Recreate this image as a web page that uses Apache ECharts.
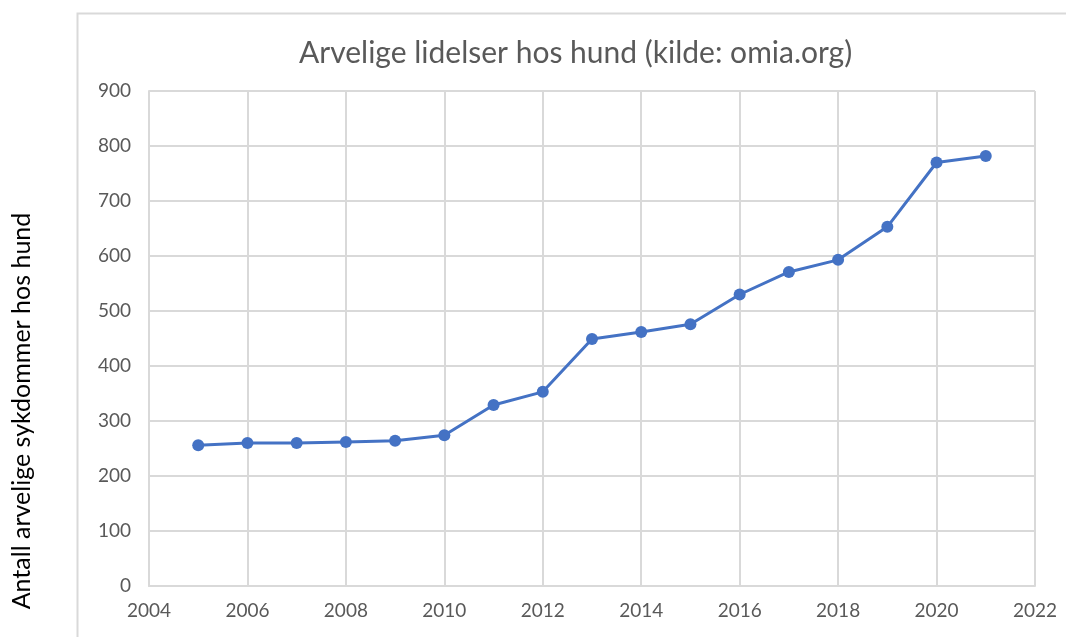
<!DOCTYPE html>
<html>
<head>
<meta charset="utf-8">
<script src="https://cdn.jsdelivr.net/npm/echarts@6/dist/echarts.min.js"></script>
<style>
  html, body { margin: 0; padding: 0; background: #fff; }
  #chart { width: 1066px; height: 637px; }
</style>
</head>
<body>
<div id="chart"></div>
<script>
// data
const years = [2005, 2006, 2007, 2008, 2009, 2010, 2011, 2012, 2013, 2014, 2015, 2016, 2017, 2018, 2019, 2020, 2021];
const counts = [256, 260, 260, 262, 264, 274, 329, 353, 449, 462, 476, 530, 571, 593, 653, 770, 782];

const titleText = 'Arvelige lidelser hos hund (kilde: omia.org)';
const yAxisTitle = 'Antall arvelige sykdommer hos hund';

const gray = '#595959';
const gridGray = '#d9d9d9';
const lineBlue = '#4472c4';
const font = 'Lato, "Open Sans", sans-serif';

const chart = echarts.init(document.getElementById('chart'));

chart.setOption({
  backgroundColor: '#fff',
  animation: false,
  title: {
    text: titleText,
    left: 294,
    top: 33,
    textStyle: { color: gray, fontSize: 30, fontWeight: 'normal', fontFamily: font }
  },
  graphic: [{
    type: 'rect',
    shape: { x: 77.5, y: 13.5, width: 1100, height: 700 },
    style: { fill: 'none', stroke: gridGray, lineWidth: 2 },
    silent: true
  }, {
    // y axis title sits outside the chart box, like the original
    type: 'text',
    x: 22,
    y: 411,
    rotation: Math.PI / 2,
    style: {
      text: yAxisTitle,
      fill: '#000',
      font: '25px ' + font,
      align: 'center',
      verticalAlign: 'middle'
    },
    silent: true
  }],
  grid: { left: 149, right: 31, top: 91, bottom: 51 },
  xAxis: {
    type: 'value',
    min: 2004,
    max: 2022,
    interval: 2,
    axisLine: { show: true, lineStyle: { color: gridGray, width: 2 } },
    axisTick: { show: false },
    axisLabel: { color: gray, fontSize: 19, fontFamily: font, margin: 15, formatter: v => String(v) },
    splitLine: { show: true, lineStyle: { color: gridGray, width: 2 } }
  },
  yAxis: {
    type: 'value',
    min: 0,
    max: 900,
    interval: 100,
    axisLine: { show: true, lineStyle: { color: gridGray, width: 2 } },
    axisTick: { show: false },
    axisLabel: { color: gray, fontSize: 19, fontFamily: font, margin: 18 },
    splitLine: { show: true, lineStyle: { color: gridGray, width: 2 } }
  },
  series: [{
    type: 'line',
    data: years.map((y, i) => [y, counts[i]]),
    symbol: 'circle',
    symbolSize: 12,
    lineStyle: { color: lineBlue, width: 3 },
    itemStyle: { color: lineBlue }
  }]
});
</script>
</body>
</html>
